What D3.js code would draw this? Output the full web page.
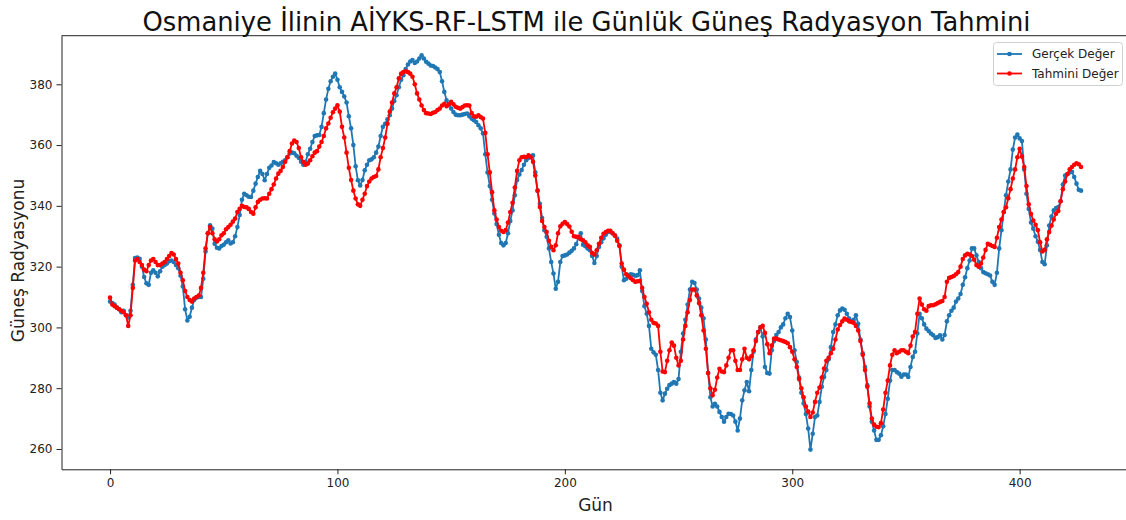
<!DOCTYPE html>
<html>
<head>
<meta charset="utf-8">
<script src="https://cdn.jsdelivr.net/npm/d3@7"></script>
<style>
  body { margin: 0; background: #fff; }
  svg { display: block; font-family: "DejaVu Sans", sans-serif; }
</style>
</head>
<body>
<div id="chart"></div>
<script>
// observed daily radiation (Gerçek Değer), day 0..427
const actual = [
  308.5,308,307.5,306.5,306,305,305.5,304,303.3,305.5,
  314,322.8,323,322.6,320,316.6,314.5,314,318,318.8,
  318,316.8,318.5,320,320.5,321,321.8,322,321.5,320.5,
  319.5,317,313.5,306,302.3,303.5,306.5,309,309.8,310,
  310,316,325,331,333.6,332.5,327.5,326.2,326,326.8,
  327.2,328,328.7,327.6,328,330,333,337,342,344,
  343.5,343,342.9,345,347.3,349.5,351.5,350.5,348.4,350.5,
  352.5,353.3,354.4,354,353.5,354,354.5,355,356,357.2,
  357.5,357.3,356.5,355.8,354.5,353.5,354.5,357,358.8,361,
  363,363.2,363.3,366,370.5,375,378.5,381,382.5,383.5,
  381.5,379,377.5,376,374,369.5,365.5,360,353,348.4,
  346.7,348.5,351.7,353.5,355,355.3,356,357.5,359.5,363,
  366,367,368.5,369.8,372,374.5,376.4,379,381.5,383,
  385,386.5,387.5,388,387,387.5,388.5,389.5,388.5,387.4,
  386.8,386.2,386,385.5,385,384,381,377.5,374.7,373.2,
  372,370.9,370,369.8,369.8,370,370.2,370.4,369.5,368.7,
  368.2,367.6,366.5,365.5,363.8,357,351,346.5,342,337.5,
  334,330.5,327.8,327,327.8,331,335,338.5,343.5,348.5,
  350.3,351.8,353.5,355,355.8,356.3,356.6,351,345,340.7,
  336,332,329.8,326,321.5,317.7,312.7,315,321.5,323.5,
  323.7,324,324.6,325.2,326,327.4,329.5,331,327.2,326.7,
  326,325.4,323.5,321.2,323.5,326.5,328,329.3,330.5,331.4,
  331.5,331,330.3,329.2,327,320,315.5,316,317.2,317.5,
  317.3,317,317.2,318.8,312,307,304.5,300.5,293,291.8,
  291,286,278.5,276,278.2,279.8,281,281.5,282,281.5,
  283,292,298,302.5,307.5,312.5,315,314.6,312.5,309.5,
  306.5,303,296,285,277,274,274.9,274,272.2,270.5,
  269,270.5,271.6,271.5,271,269,266.1,270,276,279.3,
  282,279,286,292,296,298.5,300,297,287,285,
  284.8,292.5,295.5,297.5,298.5,300,301,303,304.5,303.4,
  299,292.5,288.6,283.5,278.5,275,271.5,266.7,259.8,265,
  270.5,271,275.5,280.5,283.7,286,289.5,293.5,298.5,301,
  304,305.6,306.2,305.8,304.5,302.9,302,302.5,304,301.2,
  296,291.5,287,281,274,269,266.1,263,263,264.5,
  267.5,271.5,276.5,282.5,286,286,285.3,284.8,283.8,284.5,
  284.5,283.7,287,290.3,292,298,304.5,303,301,299.6,
  298.8,298,297.4,296.5,296.8,297.4,296,297.5,302,304,
  305.5,306.5,308.5,309.5,311,314,316.5,319.5,322,326,
  326,323.7,321.5,319.5,318.2,317.8,317.5,317.1,315,314,
  318,326,332,338,343.5,348,352,358.5,362.5,363.5,
  362.2,361.3,352,344,339,334.5,332.5,330,328.2,325.5,
  321.5,320.8,327,333.5,336.5,338.5,339.3,339.6,341.5,347,
  350,350.4,351,351.2,349.5,347.3,345.3,345
];

// model output (Tahmini Değer), day 0..427
const predicted = [
  309.8,307.5,307,306.5,306,305.5,305,304,300.5,304,
  313,322,322.5,321.5,320.5,319,318.5,320.5,322,322.5,
  321.5,320.5,320.5,321,321.5,322.5,323.5,324.5,324,322.5,
  321,318,315.5,312,310,309,308.5,309.5,310,310.5,
  313,318,326,331,333,331,329,328.3,329,330.3,
  331,332.3,333,333.8,334.8,335.8,338,339,340,339.6,
  339.5,339,338,337.4,339.5,341.3,342,342.4,342.5,342.4,
  344,345.5,347,349,350.6,351.5,352.8,354.5,356,358,
  360.5,361.5,361,359,356,354.4,353.5,353.9,355,356.3,
  357.5,358,359.5,361,363,365.5,367.1,369,370.8,372,
  373.1,371,366,362.5,357.5,352.5,348.5,345,342.4,340.5,
  340,342,344,346.5,348,349,349.5,349.8,352,356,
  359,362.5,367,371,374,377,379,382,383.5,384,
  384.3,384,383.5,382.5,380,377,375,373,371.5,370.5,
  370.4,370.2,370.6,370.9,371.5,372,373,373.6,372.8,373.5,
  374.2,373.4,372.6,372.3,372,372.5,373,373.1,373,370.5,
  369.5,369.3,369.8,369.2,368.7,364,357,351,344.5,338.5,
  335.5,333,331.8,331.4,332,334.5,338,341,346,351.5,
  355,356,356.1,356,356.6,356,354.5,350,345,339.6,
  335,333,331.4,328.5,326.5,325.4,327,331,333.3,334.1,
  334.7,334,333.2,331.5,330,329.8,329.8,329,328.7,328,
  327,326.5,324.5,324,325.4,327.5,329.5,330.8,331.4,331.8,
  331.8,331,330.2,328.5,326.8,321,319,317.5,316.8,316.2,
  315.5,315,315.2,315.3,313,310,307.8,305,302.5,301.5,
  301.3,300.5,292,285.5,285.3,289,292.5,295,294,290,
  287.5,289,296,300.5,305,309,312.5,312.5,310.5,308,
  304,299,293,285,280,277.7,279.5,283.5,286.4,285.5,
  285.3,287.5,290,292.5,292.5,289,286,286,289.5,293,
  290,289.5,290.5,292.5,295.5,298.5,300,300.5,298.2,294.5,
  291.5,294,296.3,296.3,296,295.8,295.5,295.2,294.8,293.5,
  292,289.5,287,283,280,277,274,272.3,270.5,272,
  275.5,278.5,280.2,283.5,286.5,289,290,291.5,293,296,
  299.3,300.8,302,302.9,302.5,302,301.8,301.5,300.5,299,
  295.5,291,286,280.5,275,270,268,267.3,267.2,268.5,
  273,278.5,282.5,287.5,291,292.5,291.5,292,292.5,292.5,
  292,291.5,294,297,298.5,304.5,309.5,307.5,306,305.5,
  307,307.3,307.3,307.6,308,308.4,308.7,310,315,316.3,
  316.6,316.9,317.5,318.2,320,322.5,323.7,324.2,324,323.5,
  322.3,320.5,320,321,323,325.5,327.5,327.2,326.8,326.5,
  329.5,333,335.5,338,339.5,342.5,345.5,349,352,356,
  358.8,356.2,352.8,346.5,340.5,337.3,335.2,333.8,332,328,
  325,325.5,329,331.4,333.5,335.5,337.4,338.3,341.5,345.5,
  348,350.5,352,352.8,353.5,354,353.7,352.8
];

const seriesNames = ["Gerçek Değer", "Tahmini Değer"];
const xTicks = [0, 100, 200, 300, 400];
const yTicks = [260, 280, 300, 320, 340, 360, 380];

const titleText = "Osmaniye İlinin AİYKS-RF-LSTM ile Günlük Güneş Radyasyon Tahmini";
const xLabel = "Gün";
const yLabel = "Güneş Radyasyonu";

function draw() {
  const width = 1126;
  const height = 520;
  const plot = { left: 61.5, right: 1129.6, top: 35.7, bottom: 469.3 };
  const blue = "#1f77b4";
  const red = "#ff0000";

  const series = [
    { name: seriesNames[0], values: actual, color: blue },
    { name: seriesNames[1], values: predicted, color: red }
  ];

  // matplotlib-like 5% margins
  const n = actual.length - 1;
  const all = actual.concat(predicted);
  const [yMin, yMax] = d3.extent(all);
  const yPad = (yMax - yMin) * 0.05;

  const x = d3.scaleLinear()
    .domain([-n * 0.05, n * 1.05])
    .range([plot.left, plot.right]);

  const y = d3.scaleLinear()
    .domain([yMin - yPad, yMax + yPad])
    .range([plot.bottom, plot.top]);

  const svg = d3.select("#chart")
    .append("svg")
    .attr("width", width)
    .attr("height", height);

  const line = d3.line()
    .x((d, i) => x(i))
    .y(d => y(d));

  series.forEach(s => {
    const g = svg.append("g");
    g.append("path")
      .datum(s.values)
      .attr("d", line)
      .attr("fill", "none")
      .attr("stroke", s.color)
      .attr("stroke-width", 1.8)
      .attr("stroke-linejoin", "round");
    g.selectAll("circle")
      .data(s.values)
      .join("circle")
      .attr("cx", (d, i) => x(i))
      .attr("cy", d => y(d))
      .attr("r", 2.3)
      .attr("fill", s.color);
  });

  // axes
  const xAxis = svg.append("g")
    .attr("transform", `translate(0,${plot.bottom})`)
    .call(d3.axisBottom(x).tickValues(xTicks).tickSize(5).tickPadding(4).tickSizeOuter(0));

  const yAxis = svg.append("g")
    .attr("transform", `translate(${plot.left},0)`)
    .call(d3.axisLeft(y).tickValues(yTicks).tickSize(5).tickPadding(4).tickSizeOuter(0));

  [xAxis, yAxis].forEach(a => {
    a.select(".domain").attr("stroke", "#222").attr("stroke-width", 1);
    a.selectAll(".tick line").attr("stroke", "#222");
    a.selectAll(".tick text")
      .attr("fill", "#222")
      .style("font-size", "12px")
      .style("font-family", "DejaVu Sans, sans-serif");
  });

  // top spine
  svg.append("line")
    .attr("x1", plot.left).attr("x2", plot.right)
    .attr("y1", plot.top).attr("y2", plot.top)
    .attr("stroke", "#222").attr("stroke-width", 1);

  // title
  svg.append("text")
    .attr("x", 586.5)
    .attr("y", 31)
    .attr("text-anchor", "middle")
    .attr("textLength", 888)
    .attr("lengthAdjust", "spacingAndGlyphs")
    .style("font-size", "27px")
    .attr("fill", "#111")
    .text(titleText);

  // axis labels
  svg.append("text")
    .attr("x", (plot.left + plot.right) / 2)
    .attr("y", 511)
    .attr("text-anchor", "middle")
    .style("font-size", "17px")
    .attr("fill", "#222")
    .text(xLabel);

  svg.append("text")
    .attr("transform", "rotate(-90)")
    .attr("x", -(plot.top + plot.bottom) / 2 - 8)
    .attr("y", 24)
    .attr("text-anchor", "middle")
    .style("font-size", "17px")
    .attr("fill", "#222")
    .text(yLabel);

  // legend
  const legend = svg.append("g");
  legend.append("rect")
    .attr("x", 993.5).attr("y", 42.5)
    .attr("width", 129).attr("height", 43)
    .attr("rx", 3)
    .attr("fill", "#fff").attr("fill-opacity", 0.8)
    .attr("stroke", "#d0d0d0");

  series.forEach((s, i) => {
    const cy = 54 + i * 19.5;
    legend.append("line")
      .attr("x1", 997).attr("x2", 1022)
      .attr("y1", cy).attr("y2", cy)
      .attr("stroke", s.color).attr("stroke-width", 1.8);
    legend.append("circle")
      .attr("cx", 1009.5).attr("cy", cy).attr("r", 2.3)
      .attr("fill", s.color);
    legend.append("text")
      .attr("x", 1032).attr("y", cy + 4.3)
      .style("font-size", "12px")
      .attr("fill", "#222")
      .text(s.name);
  });
}

draw();
</script>
</body>
</html>
